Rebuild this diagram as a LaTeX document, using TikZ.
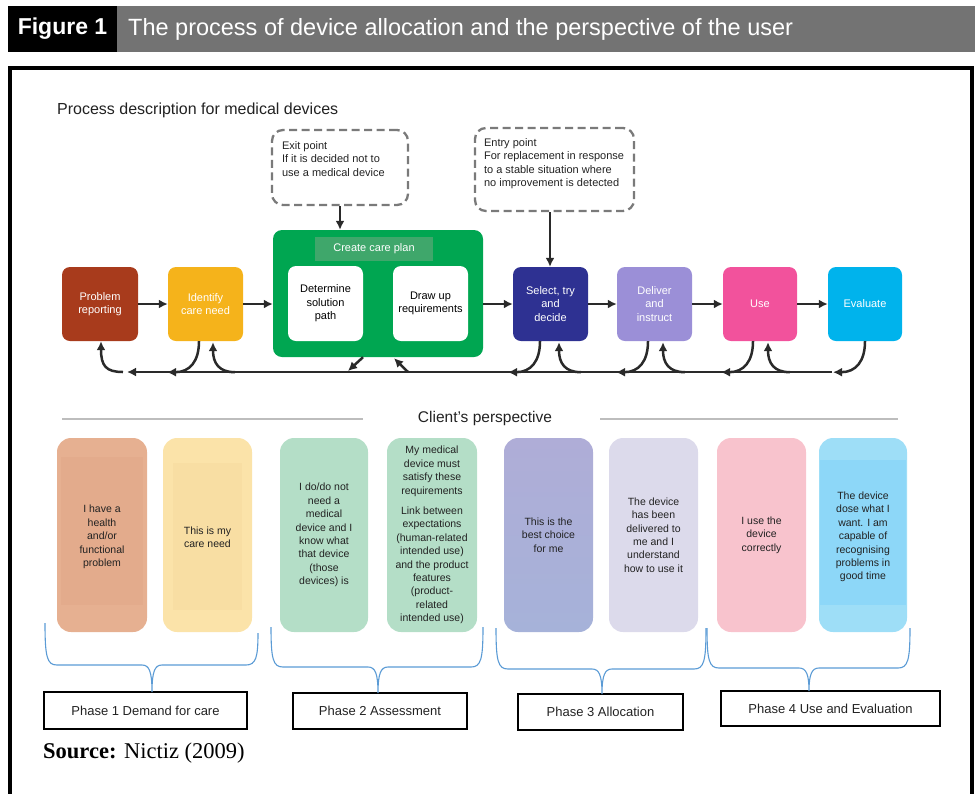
\documentclass[tikz,border=0pt]{standalone}
\usepackage{fontspec}
\setmainfont{Liberation Sans}
\newfontfamily\srcfont{Liberation Serif}
\usetikzlibrary{arrows.meta}

\definecolor{hdrgray}{HTML}{737373}
\definecolor{arrowdark}{HTML}{2A2A2A}
\definecolor{dashgray}{HTML}{7A7A7A}
\definecolor{rulegray}{HTML}{BDBDBD}
\definecolor{braceblue}{HTML}{5B9BD5}
\definecolor{cProb}{HTML}{A83B1C}
\definecolor{cIdent}{HTML}{F5B31B}
\definecolor{cGreen}{HTML}{00A651}
\definecolor{cBand}{HTML}{3FA76B}
\definecolor{cSel}{HTML}{2E3192}
\definecolor{cDeliv}{HTML}{9B8FD7}
\definecolor{cUse}{HTML}{F2529C}
\definecolor{cEval}{HTML}{00B3EC}
\definecolor{kOne}{HTML}{E6B091}
\definecolor{kOneIn}{HTML}{E3AB8C}
\definecolor{kTwo}{HTML}{FBE3A9}
\definecolor{kTwoIn}{HTML}{F8DEA3}
\definecolor{kGreen}{HTML}{B4DEC7}
\definecolor{kFiveTop}{HTML}{AFADD7}
\definecolor{kFiveBot}{HTML}{A6B2D9}
\definecolor{kSix}{HTML}{DCDAEB}
\definecolor{kSeven}{HTML}{F8C3CD}
\definecolor{kEight}{HTML}{9EDEF7}
\definecolor{kEightIn}{HTML}{8DD7F8}
\definecolor{ktext}{HTML}{222222}

\begin{document}
\begin{tikzpicture}[x=1pt,y=-1pt,
  proc/.style={rounded corners=8pt, minimum width=75pt, minimum height=74pt,
    inner sep=0pt, align=center, text=white, font=\fontsize{11}{13.5}\selectfont},
  inner/.style={rounded corners=8pt, fill=white, minimum width=75pt, minimum height=75pt,
    inner sep=0pt, align=center, text=black, font=\fontsize{11}{13.5}\selectfont},
  client/.style={rounded corners=14pt, minimum width=89pt, minimum height=194pt,
    inner sep=0pt, align=center, text=ktext, font=\fontsize{10.5}{13.4}\selectfont},
  note/.style={draw=dashgray, line width=2.3pt, dash pattern=on 8pt off 4.5pt,
    rounded corners=11pt, inner sep=0pt},
  notetext/.style={anchor=north west, inner sep=0pt, align=left, text=ktext,
    font=\fontsize{11}{13.5}\selectfont},
  flow/.style={draw=arrowdark, line width=2.5pt, -{Latex[length=9pt,width=9pt]}},
  phasebox/.style={draw=black, line width=1.6pt, inner sep=0pt, text=ktext,
    font=\fontsize{13}{15}\selectfont},
  bracepath/.style={draw=braceblue, line width=1.1pt}
]
\useasboundingbox (0,0) rectangle (979,793);

% ---- header bar ----
\fill[black] (8,6) rectangle (117,52);
\fill[hdrgray] (117,6) rectangle (975,52);
\node[text=white, inner sep=0pt, font=\bfseries\fontsize{23}{25}\selectfont] (figno) at (62.5,29) {Figure 1};
\node[text=white, inner sep=0pt, anchor=west, font=\fontsize{23.5}{25}\selectfont] (figtitle) at (128,29)
  {The process of device allocation and the perspective of the user};

% ---- outer frame ----
\draw[line width=4pt] (10,795) -- (10,68) -- (972,68) -- (972,795);

\node[anchor=west, inner sep=0pt, text=ktext, font=\fontsize{16}{18}\selectfont] (proctitle) at (57,110)
  {Process description for medical devices};

% ---- dashed notes ----
\node[note, minimum width=136pt, minimum height=75pt] (exit) at (340,167.5) {};
\node[notetext] (exittxt) at ([xshift=11pt,yshift=-12pt]exit.north west)
  {Exit point\\If it is decided not to\\use a medical device};
\node[note, minimum width=159pt, minimum height=83pt] (entry) at (554.5,169.5) {};
\node[notetext] (entrytxt) at ([xshift=10pt,yshift=-11pt]entry.north west)
  {Entry point\\For replacement in response\\to a stable situation where\\no improvement is detected};

% ---- process row ----
\node[proc, fill=cProb, minimum width=76pt] (prob) at (100,304) {Problem\\reporting};
\node[proc, fill=cIdent] (ident) at (205.5,304) {Identify\\care need};
\node[rounded corners=9pt, fill=cGreen, minimum width=210pt, minimum height=127pt, inner sep=0pt] (green) at (378,293.5) {};
\node[fill=cBand, minimum width=118pt, minimum height=24pt, inner sep=0pt, text=white,
  font=\fontsize{11}{13}\selectfont] (band) at (374,249) {Create care plan};
\node[inner] (determine) at (325.5,303.5) {Determine\\solution\\path};
\node[inner] (drawup) at (430.5,303.5) {Draw up\\requirements};
\node[proc, fill=cSel] (sel) at (550.5,304) {Select, try\\and\\decide};
\node[proc, fill=cDeliv] (deliv) at (654.5,304) {Deliver\\and\\instruct};
\node[proc, fill=cUse, minimum width=74pt] (use) at (760,304) {Use};
\node[proc, fill=cEval, minimum width=74pt] (eval) at (865,304) {Evaluate};

% forward arrows
\draw[flow] (prob) -- (ident);
\draw[flow] (ident) -- (ident -| green.west);
\draw[flow] (sel -| green.east) -- (sel);
\draw[flow] (sel) -- (deliv);
\draw[flow] (deliv) -- (use);
\draw[flow] (use) -- (eval);
\draw[flow] (exit.south) -- (exit.south |- green.north);
\draw[flow] ([xshift=-4.5pt]entry.south) -- ([xshift=-4.5pt]entry.south |- sel.north);

% ---- feedback loop ----
\coordinate (fbR) at (832,372);
\coordinate (fbL) at (127,372);
\draw[flow] (fbR) -- (fbL);
\draw[flow] ([xshift=-4pt]fbL) .. controls (106,372) and (101,366) .. ([xshift=1pt]prob.south);
% returns from each step down onto the line
\foreach \n/\dx in {eval/0, use/-7, deliv/-6.5, sel/-10.5, ident/-6.5}{
  \draw[flow] ([xshift=\dx pt]\n.south) .. controls ([xshift=\dx pt, yshift=-20pt]\n.south)
    and ([xshift=\dx pt - 9pt, yshift=-31pt]\n.south) .. ([xshift=\dx pt - 32pt, yshift=-31pt]\n.south);
}
% entries from the line up into each step
\foreach \n/\dx in {use/8, deliv/8.5, sel/8.5, ident/7.5}{
  \draw[flow] ([xshift=\dx pt + 22pt, yshift=-31pt]\n.south) .. controls ([xshift=\dx pt + 6pt, yshift=-31pt]\n.south)
    and ([xshift=\dx pt, yshift=-22pt]\n.south) .. ([xshift=\dx pt, yshift=-1pt]\n.south);
}
\coordinate (gOut) at (348,371);
\coordinate (gIn) at (408,372);
\draw[flow] ([xshift=-15pt]green.south) -- (gOut);
\draw[flow] (gIn) -- ([xshift=16pt, yshift=-1pt]green.south);

% ---- client's perspective ----
\node[inner sep=0pt, text=ktext, font=\fontsize{15.5}{17}\selectfont] (clienthdr) at (485,418) {Client’s perspective};
\draw[rulegray, line width=1.8pt] (62,419) -- (363,419);
\draw[rulegray, line width=1.8pt] (600,419) -- (898,419);

\node[client, fill=kOne, minimum width=90pt] (c1) at (102,535) {};
\fill[kOneIn] (61,457) rectangle (143,605);
\node[client] (c1t) at (102,537) {I have a\\health\\and/or\\functional\\problem};

\node[client, fill=kTwo] (c2) at (207.5,535) {};
\fill[kTwoIn] (173,463) rectangle (242,610);
\node[client] (c2t) at (207.5,537) {This is my\\care need};

\node[client, fill=kGreen, minimum width=88pt] (c3) at (324,535)
  {I do/do not\\need a\\medical\\device and I\\know what\\that device\\(those\\devices) is};
\node[client, fill=kGreen, minimum width=90pt] (c4) at (432,535)
  {My medical\\device must\\satisfy these\\requirements\\[7pt]Link between\\expectations\\(human-related\\intended use)\\and the product\\features\\(product-\\related\\intended use)};

\node[client, top color=kFiveTop, bottom color=kFiveBot] (c5) at (548.5,535) {This is the\\best choice\\for me};
\node[client, fill=kSix] (c6) at (653.5,535) {The device\\has been\\delivered to\\me and I\\understand\\how to use it};
\node[client, fill=kSeven] (c7) at (761.5,535) {I use the\\device\\correctly};

\node[client, fill=kEight, minimum width=88pt] (c8) at (863,535) {};
\fill[kEightIn] (820,460) rectangle (906,605);
\node[client] (c8t) at (863,537) {The device\\dose what I\\want. I am\\capable of\\recognising\\problems in\\good time};

% ---- phases ----
\node[phasebox, minimum width=203pt, minimum height=37pt] (p1) at (145.5,710.5) {Phase 1 Demand for care};
\node[phasebox, minimum width=174pt, minimum height=36pt] (p2) at (380,711) {Phase 2 Assessment};
\node[phasebox, minimum width=165pt, minimum height=36pt] (p3) at (600.5,712) {Phase 3 Allocation};
\node[phasebox, minimum width=219pt, minimum height=35pt] (p4) at (830.5,708.5) {Phase 4 Use and Evaluation};

% curly braces grouping the client steps
\foreach \xl/\ytl/\xr/\ytr/\yb/\xc/\yt in {45/623/258/633/665/152/692, 271/627/483/627/667/378/693,
    496/628/706/628/669/602/694, 707/628/910/628/668/809/691}{
  \draw[bracepath] (\xl,\ytl) .. controls (\xl,\yb-8) and (\xl+2,\yb) .. (\xl+12,\yb)
    -- (\xc-10,\yb) .. controls (\xc-3,\yb) and (\xc,\yb+6) .. (\xc,\yt)
    .. controls (\xc,\yb+6) and (\xc+3,\yb) .. (\xc+10,\yb)
    -- (\xr-12,\yb) .. controls (\xr-2,\yb) and (\xr,\yb-8) .. (\xr,\ytr);
}

\node[anchor=west, inner sep=0pt, text=black, font=\srcfont\fontsize{22.5}{24}\selectfont] (source) at (43,753)
  {\textbf{Source:} Nictiz (2009)};
\end{tikzpicture}
\end{document}
